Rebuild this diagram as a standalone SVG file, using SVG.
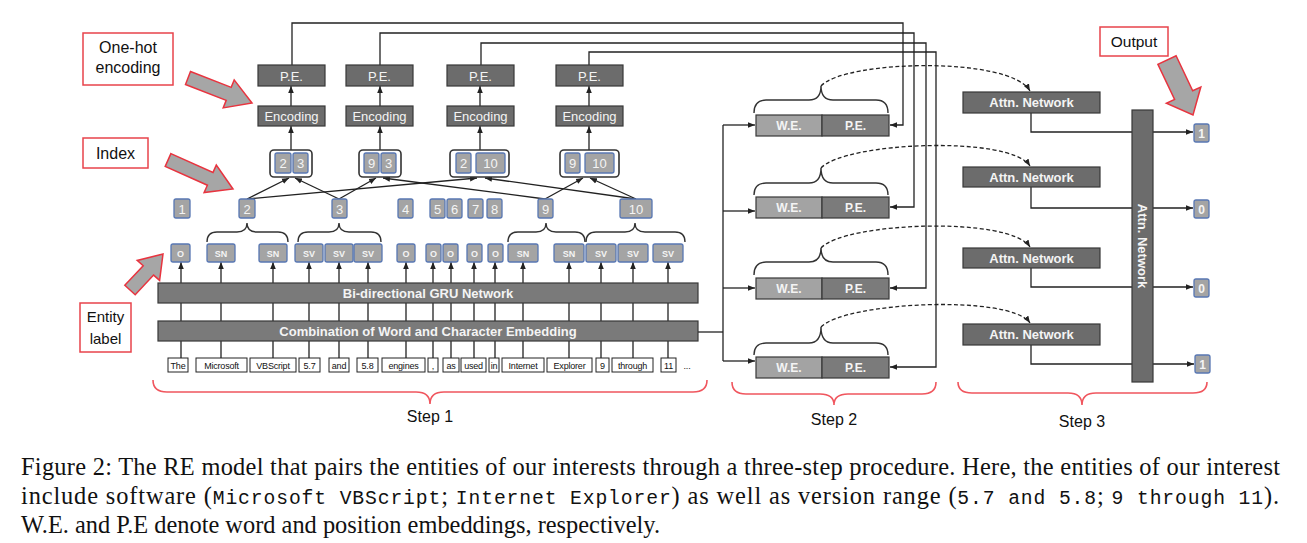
<svg xmlns="http://www.w3.org/2000/svg" width="1307" height="543" viewBox="0 0 1307 543">
<style>
.dk{fill:#6c6c6c;stroke:#383838;stroke-width:1.2}
.bar{fill:#7a7a7a;stroke:#383838;stroke-width:1.2}
.we{fill:#a3a3a3;stroke:#383838;stroke-width:1.2}
.pe2{fill:#7b7b7b;stroke:#383838;stroke-width:1.2}
.wt{fill:#f4f4f4;font-family:"Liberation Sans",Arial,sans-serif;text-anchor:middle}
.b{font-weight:bold}
.ix{fill:#a4a4a4;stroke:#5877b3;stroke-width:1.3}
.pair{fill:#ffffff;stroke:#333;stroke-width:1.6}
.red{fill:#ffffff;stroke:#e8434b;stroke-width:1.5}
.blk{fill:#111;font-family:"Liberation Sans",Arial,sans-serif;text-anchor:middle}
.wd{fill:#ffffff;stroke:#222;stroke-width:1}
.wdt{fill:#111;font-family:"Liberation Sans",Arial,sans-serif;font-size:9px;text-anchor:middle;letter-spacing:-0.2px}
.ln{stroke:#222;stroke-width:1.3;fill:none}
.dash{stroke:#222;stroke-width:1.3;fill:none;stroke-dasharray:4 2.5}
.brace{stroke:#333;stroke-width:1.4;fill:none}
.rbrace{stroke:#f0565e;stroke-width:1.6;fill:none}
.bigarrow{fill:#a6a6a6;stroke:#e8343f;stroke-width:1.5;stroke-linejoin:miter}
.cap{fill:#111;font-family:"Liberation Serif","Times New Roman",serif;font-size:24.4px}
.mono{font-family:"Liberation Mono","Courier New",monospace;font-size:19.7px}
</style>
<defs>
<marker id="ah" viewBox="0 0 10 10" refX="10" refY="5" markerWidth="7" markerHeight="7" markerUnits="userSpaceOnUse" orient="auto"><path d="M0,1 L10,5 L0,9 z" fill="#222"/></marker>
</defs>
<rect width="1307" height="543" fill="#ffffff"/>

<!-- callout labels -->
<g id="lbl-onehot">
<rect class="red" x="83" y="33" width="90" height="52"/>
<text class="blk" x="128" y="53" font-size="16">One-hot</text>
<text class="blk" x="128" y="73" font-size="16">encoding</text>
<polygon class="bigarrow" points="190.5,71.5 231.2,87.4 234.2,79.9 252,103 223.2,107.9 226.2,100.4 185.5,84.5"/>
</g>
<g id="lbl-index">
<rect class="red" x="83" y="138" width="65" height="30"/>
<text class="blk" x="115.5" y="158.5" font-size="16">Index</text>
<polygon class="bigarrow" points="170.9,153.6 213,172.4 216.3,165.1 233,189 204.1,192.5 207.4,185.2 165.2,166.4"/>
</g>
<g id="lbl-entity">
<rect class="red" x="80" y="303" width="51" height="49"/>
<text class="blk" x="105.5" y="322" font-size="15">Entity</text>
<text class="blk" x="105.5" y="344" font-size="15">label</text>
<polygon class="bigarrow" points="124.8,285.3 143.2,265.7 137.2,260.4 163,254 159.6,280.4 153.6,275.1 135.2,294.7"/>
</g>
<g id="lbl-output">
<rect class="red" x="1100" y="27" width="68" height="29"/>
<text class="blk" x="1134" y="47" font-size="15.5">Output</text>
<polygon class="bigarrow" points="1176.1,55.7 1192.7,90.8 1200.8,87 1193,115 1166.4,103.2 1174.6,99.4 1157.9,64.3"/>
</g>

<!-- connectors -->
<g id="connectors">
<line class="ln" x1="291" y1="150" x2="291" y2="126" marker-end="url(#ah)"/>
<line class="ln" x1="380" y1="150" x2="380" y2="126" marker-end="url(#ah)"/>
<line class="ln" x1="480" y1="150" x2="480" y2="126" marker-end="url(#ah)"/>
<line class="ln" x1="589" y1="150" x2="589" y2="126" marker-end="url(#ah)"/>
<line class="ln" x1="291" y1="106" x2="291" y2="86" marker-end="url(#ah)"/>
<line class="ln" x1="380" y1="106" x2="380" y2="86" marker-end="url(#ah)"/>
<line class="ln" x1="480" y1="106" x2="480" y2="86" marker-end="url(#ah)"/>
<line class="ln" x1="589" y1="106" x2="589" y2="86" marker-end="url(#ah)"/>
<line class="ln" x1="247" y1="199" x2="289" y2="178" marker-end="url(#ah)"/>
<line class="ln" x1="247" y1="199" x2="477" y2="178" marker-end="url(#ah)"/>
<line class="ln" x1="339" y1="199" x2="295" y2="178" marker-end="url(#ah)"/>
<line class="ln" x1="339" y1="199" x2="376" y2="178" marker-end="url(#ah)"/>
<line class="ln" x1="545" y1="199" x2="383" y2="178" marker-end="url(#ah)"/>
<line class="ln" x1="545" y1="199" x2="583" y2="178" marker-end="url(#ah)"/>
<line class="ln" x1="636" y1="199" x2="485" y2="178" marker-end="url(#ah)"/>
<line class="ln" x1="636" y1="199" x2="590" y2="178" marker-end="url(#ah)"/>
<g class="ln" marker-end="url(#ah)">
<line x1="181" y1="283" x2="181" y2="262"/>
<line x1="221" y1="283" x2="221" y2="262"/>
<line x1="273" y1="283" x2="273" y2="262"/>
<line x1="309" y1="283" x2="309" y2="262"/>
<line x1="339" y1="283" x2="339" y2="262"/>
<line x1="368" y1="283" x2="368" y2="262"/>
<line x1="406" y1="283" x2="406" y2="262"/>
<line x1="433" y1="283" x2="433" y2="262"/>
<line x1="451" y1="283" x2="451" y2="262"/>
<line x1="474" y1="283" x2="474" y2="262"/>
<line x1="495" y1="283" x2="495" y2="262"/>
<line x1="523" y1="283" x2="523" y2="262"/>
<line x1="569" y1="283" x2="569" y2="262"/>
<line x1="601" y1="283" x2="601" y2="262"/>
<line x1="633" y1="283" x2="633" y2="262"/>
<line x1="668" y1="283" x2="668" y2="262"/>
</g>
<path class="ln" d="M181,303V321M221,303V321M273,303V321M309,303V321M339,303V321M368,303V321M406,303V321M433,303V321M451,303V321M474,303V321M495,303V321M523,303V321M569,303V321M601,303V321M633,303V321M668,303V321"/>
<path class="ln" d="M181,341V358M221,341V358M273,341V358M309,341V358M339,341V358M368,341V358M406,341V358M433,341V358M451,341V358M474,341V358M495,341V358M523,341V358M569,341V358M601,341V358M633,341V358M668,341V358"/>
<path class="ln" d="M292,65V23H903V125H890" marker-end="url(#ah)"/>
<path class="ln" d="M380,65V33H914V207H890" marker-end="url(#ah)"/>
<path class="ln" d="M481,65V43H926V288H890" marker-end="url(#ah)"/>
<path class="ln" d="M589,65V52H936V367H890" marker-end="url(#ah)"/>
<path class="ln" d="M698,332H723"/>
<path class="ln" d="M723,125V361"/>
<line class="ln" x1="723" y1="125" x2="755" y2="125" marker-end="url(#ah)"/>
<line class="ln" x1="723" y1="211" x2="755" y2="211" marker-end="url(#ah)"/>
<line class="ln" x1="723" y1="288" x2="755" y2="288" marker-end="url(#ah)"/>
<line class="ln" x1="723" y1="361" x2="755" y2="361" marker-end="url(#ah)"/>
<path class="dash" d="M821,86C845,60 1010,56 1030,91" marker-end="url(#ah)"/>
<path class="dash" d="M821,168C845,142 1010,135 1030,166" marker-end="url(#ah)"/>
<path class="dash" d="M821,248C845,222 1010,216 1030,247" marker-end="url(#ah)"/>
<path class="dash" d="M821,327C845,302 1010,294 1030,323" marker-end="url(#ah)"/>
<path class="ln" d="M1031,113V132H1193" marker-end="url(#ah)"/>
<path class="ln" d="M1031,187V208H1193" marker-end="url(#ah)"/>
<path class="ln" d="M1031,268V287H1193" marker-end="url(#ah)"/>
<path class="ln" d="M1031,345V364H1194" marker-end="url(#ah)"/>
</g>

<g id="pe1"><rect class="dk" x="258" y="65" width="67" height="21"/><text class="wt" x="291.5" y="80.5" font-size="13">P.E.</text></g>
<g id="pe2"><rect class="dk" x="346" y="65" width="67" height="21"/><text class="wt" x="379.5" y="80.5" font-size="13">P.E.</text></g>
<g id="pe3"><rect class="dk" x="447" y="65" width="67" height="21"/><text class="wt" x="480.5" y="80.5" font-size="13">P.E.</text></g>
<g id="pe4"><rect class="dk" x="556" y="65" width="67" height="21"/><text class="wt" x="589.5" y="80.5" font-size="13">P.E.</text></g>
<g id="enc1"><rect class="dk" x="258" y="106" width="67" height="20"/><text class="wt" x="291.5" y="120.5" font-size="13">Encoding</text></g>
<g id="enc2"><rect class="dk" x="346" y="106" width="67" height="20"/><text class="wt" x="379.5" y="120.5" font-size="13">Encoding</text></g>
<g id="enc3"><rect class="dk" x="447" y="106" width="67" height="20"/><text class="wt" x="480.5" y="120.5" font-size="13">Encoding</text></g>
<g id="enc4"><rect class="dk" x="556" y="106" width="67" height="20"/><text class="wt" x="589.5" y="120.5" font-size="13">Encoding</text></g>

<g id="pair1"><rect class="pair" x="270" y="150" width="42" height="27" rx="4"/>
<rect class="ix" x="275" y="153" width="16" height="20" rx="2"/><text class="wt" x="283" y="168" font-size="13">2</text>
<rect class="ix" x="293" y="153" width="15" height="20" rx="2"/><text class="wt" x="300.5" y="168" font-size="13">3</text></g>
<g id="pair2"><rect class="pair" x="359" y="150" width="42" height="27" rx="4"/>
<rect class="ix" x="364" y="153" width="15" height="20" rx="2"/><text class="wt" x="371.5" y="168" font-size="13">9</text>
<rect class="ix" x="381" y="153" width="15" height="20" rx="2"/><text class="wt" x="388.5" y="168" font-size="13">3</text></g>
<g id="pair3"><rect class="pair" x="450" y="150" width="59" height="27" rx="4"/>
<rect class="ix" x="456" y="153" width="15" height="20" rx="2"/><text class="wt" x="463.5" y="168" font-size="13">2</text>
<rect class="ix" x="476" y="153" width="29" height="20" rx="2"/><text class="wt" x="490.5" y="168" font-size="13">10</text></g>
<g id="pair4"><rect class="pair" x="560" y="150" width="59" height="27" rx="4"/>
<rect class="ix" x="565" y="153" width="15" height="20" rx="2"/><text class="wt" x="572.5" y="168" font-size="13">9</text>
<rect class="ix" x="585" y="153" width="29" height="20" rx="2"/><text class="wt" x="599.5" y="168" font-size="13">10</text></g>

<g id="idx1"><rect class="ix" x="174" y="199" width="16" height="19" rx="2"/><text class="wt" x="182" y="213.5" font-size="13">1</text></g>
<g id="idx2"><rect class="ix" x="239" y="199" width="16" height="19" rx="2"/><text class="wt" x="247" y="213.5" font-size="13">2</text></g>
<g id="idx3"><rect class="ix" x="332" y="199" width="15" height="19" rx="2"/><text class="wt" x="339.5" y="213.5" font-size="13">3</text></g>
<g id="idx4"><rect class="ix" x="398" y="199" width="15" height="19" rx="2"/><text class="wt" x="405.5" y="213.5" font-size="13">4</text></g>
<g id="idx5"><rect class="ix" x="430" y="199" width="15" height="19" rx="2"/><text class="wt" x="437.5" y="213.5" font-size="13">5</text></g>
<g id="idx6"><rect class="ix" x="447" y="199" width="15" height="19" rx="2"/><text class="wt" x="454.5" y="213.5" font-size="13">6</text></g>
<g id="idx7"><rect class="ix" x="468" y="199" width="15" height="19" rx="2"/><text class="wt" x="475.5" y="213.5" font-size="13">7</text></g>
<g id="idx8"><rect class="ix" x="487" y="199" width="15" height="19" rx="2"/><text class="wt" x="494.5" y="213.5" font-size="13">8</text></g>
<g id="idx9"><rect class="ix" x="538" y="199" width="15" height="19" rx="2"/><text class="wt" x="545.5" y="213.5" font-size="13">9</text></g>
<g id="idx10"><rect class="ix" x="620" y="199" width="32" height="19" rx="2"/><text class="wt" x="636" y="213.5" font-size="13">10</text></g>

<g id="braces-labels">
<path class="brace" d="M207,242Q207,232 217,232L237,232Q247,232 247,223Q247,232 257,232L278,232Q288,232 288,242"/>
<path class="brace" d="M298,242Q298,232 308,232L329,232Q339,232 339,223Q339,232 349,232L371,232Q381,232 381,242"/>
<path class="brace" d="M508,242Q508,232 518,232L536,232Q546,232 546,223Q546,232 556,232L575,232Q585,232 585,242"/>
<path class="brace" d="M586,242Q586,232 596,232L625,232Q635,232 635,223Q635,232 645,232L675,232Q685,232 685,242"/>
</g>

<g id="labels">
<rect class="ix" x="171" y="244" width="19" height="18" rx="2"/><text class="wt b" x="180.5" y="256.5" font-size="9">O</text>
<rect class="ix" x="207" y="244" width="28" height="18" rx="2"/><text class="wt b" x="221" y="256.5" font-size="9">SN</text>
<rect class="ix" x="259" y="244" width="28" height="18" rx="2"/><text class="wt b" x="273" y="256.5" font-size="9">SN</text>
<rect class="ix" x="295" y="244" width="28" height="18" rx="2"/><text class="wt b" x="309" y="256.5" font-size="9">SV</text>
<rect class="ix" x="325" y="244" width="28" height="18" rx="2"/><text class="wt b" x="339" y="256.5" font-size="9">SV</text>
<rect class="ix" x="354" y="244" width="28" height="18" rx="2"/><text class="wt b" x="368" y="256.5" font-size="9">SV</text>
<rect class="ix" x="397" y="244" width="18" height="18" rx="2"/><text class="wt b" x="406" y="256.5" font-size="9">O</text>
<rect class="ix" x="426" y="244" width="15" height="18" rx="2"/><text class="wt b" x="433.5" y="256.5" font-size="9">O</text>
<rect class="ix" x="443" y="244" width="15" height="18" rx="2"/><text class="wt b" x="450.5" y="256.5" font-size="9">O</text>
<rect class="ix" x="467" y="244" width="15" height="18" rx="2"/><text class="wt b" x="474.5" y="256.5" font-size="9">O</text>
<rect class="ix" x="488" y="244" width="15" height="18" rx="2"/><text class="wt b" x="495.5" y="256.5" font-size="9">O</text>
<rect class="ix" x="508" y="244" width="30" height="18" rx="2"/><text class="wt b" x="523" y="256.5" font-size="9">SN</text>
<rect class="ix" x="554" y="244" width="30" height="18" rx="2"/><text class="wt b" x="569" y="256.5" font-size="9">SN</text>
<rect class="ix" x="586" y="244" width="30" height="18" rx="2"/><text class="wt b" x="601" y="256.5" font-size="9">SV</text>
<rect class="ix" x="618" y="244" width="30" height="18" rx="2"/><text class="wt b" x="633" y="256.5" font-size="9">SV</text>
<rect class="ix" x="653" y="244" width="30" height="18" rx="2"/><text class="wt b" x="668" y="256.5" font-size="9">SV</text>
</g>

<g id="gru"><rect class="bar" x="158" y="283" width="540" height="20"/><text class="wt b" x="428" y="297.5" font-size="13">Bi-directional GRU Network</text></g>
<g id="comb"><rect class="bar" x="158" y="321" width="540" height="20"/><text class="wt b" x="428" y="335.5" font-size="13">Combination of Word and Character Embedding</text></g>

<g id="words">
<rect class="wd" x="168" y="358" width="20" height="14"/><text class="wdt" x="178" y="368.5">The</text>
<rect class="wd" x="196" y="358" width="51" height="14"/><text class="wdt" x="221.5" y="368.5">Microsoft</text>
<rect class="wd" x="250" y="358" width="46" height="14"/><text class="wdt" x="273" y="368.5">VBScript</text>
<rect class="wd" x="299" y="358" width="21" height="14"/><text class="wdt" x="309.5" y="368.5">5.7</text>
<rect class="wd" x="329" y="358" width="20" height="14"/><text class="wdt" x="339" y="368.5">and</text>
<rect class="wd" x="357" y="358" width="21" height="14"/><text class="wdt" x="367.5" y="368.5">5.8</text>
<rect class="wd" x="382" y="358" width="43" height="14"/><text class="wdt" x="403.5" y="368.5">engines</text>
<rect class="wd" x="428" y="358" width="10" height="14"/><text class="wdt" x="433" y="368.5">,</text>
<rect class="wd" x="443" y="358" width="16" height="14"/><text class="wdt" x="451" y="368.5">as</text>
<rect class="wd" x="461" y="358" width="25" height="14"/><text class="wdt" x="473.5" y="368.5">used</text>
<rect class="wd" x="489" y="358" width="10" height="14"/><text class="wdt" x="494" y="368.5">in</text>
<rect class="wd" x="502" y="358" width="42" height="14"/><text class="wdt" x="523" y="368.5">Internet</text>
<rect class="wd" x="547" y="358" width="45" height="14"/><text class="wdt" x="569.5" y="368.5">Explorer</text>
<rect class="wd" x="596" y="358" width="13" height="14"/><text class="wdt" x="602.5" y="368.5">9</text>
<rect class="wd" x="612" y="358" width="41" height="14"/><text class="wdt" x="632.5" y="368.5">through</text>
<rect class="wd" x="661" y="358" width="15" height="14"/><text class="wdt" x="668.5" y="368.5">11</text>
<text class="wdt" x="687" y="368.5">...</text>
</g>

<g id="emb1"><rect class="we" x="756" y="115" width="66" height="21"/><rect class="pe2" x="822" y="115" width="67" height="21"/>
<text class="wt b" x="789" y="130" font-size="12">W.E.</text><text class="wt b" x="855.5" y="130" font-size="12">P.E.</text>
<path class="brace" d="M754,113Q754,100 766,100L809,100Q821,100 821,86Q821,100 833,100L876,100Q888,100 888,113"/></g>
<g id="emb2"><rect class="we" x="756" y="197" width="66" height="21"/><rect class="pe2" x="822" y="197" width="67" height="21"/>
<text class="wt b" x="789" y="212" font-size="12">W.E.</text><text class="wt b" x="855.5" y="212" font-size="12">P.E.</text>
<path class="brace" d="M754,195Q754,183 766,183L809,183Q821,183 821,168Q821,183 833,183L876,183Q888,183 888,195"/></g>
<g id="emb3"><rect class="we" x="756" y="278" width="66" height="21"/><rect class="pe2" x="822" y="278" width="67" height="21"/>
<text class="wt b" x="789" y="293" font-size="12">W.E.</text><text class="wt b" x="855.5" y="293" font-size="12">P.E.</text>
<path class="brace" d="M754,275Q754,262 766,262L809,262Q821,262 821,248Q821,262 833,262L876,262Q888,262 888,275"/></g>
<g id="emb4"><rect class="we" x="756" y="357" width="66" height="21"/><rect class="pe2" x="822" y="357" width="67" height="21"/>
<text class="wt b" x="789" y="372" font-size="12">W.E.</text><text class="wt b" x="855.5" y="372" font-size="12">P.E.</text>
<path class="brace" d="M754,355Q754,343 766,343L809,343Q821,343 821,327Q821,343 833,343L876,343Q888,343 888,355"/></g>

<g id="attn1"><rect class="dk" x="963" y="92" width="137" height="21"/><text class="wt b" x="1031.5" y="107" font-size="13">Attn. Network</text></g>
<g id="attn2"><rect class="dk" x="963" y="167" width="137" height="20"/><text class="wt b" x="1031.5" y="181.5" font-size="13">Attn. Network</text></g>
<g id="attn3"><rect class="dk" x="963" y="248" width="137" height="20"/><text class="wt b" x="1031.5" y="262.5" font-size="13">Attn. Network</text></g>
<g id="attn4"><rect class="dk" x="963" y="324" width="137" height="21"/><text class="wt b" x="1031.5" y="339" font-size="13">Attn. Network</text></g>
<g id="attn-main"><rect class="dk" x="1132" y="110" width="21" height="272"/>
<text class="wt b" font-size="13" transform="translate(1137.5,246) rotate(90)">Attn. Network</text></g>
<g id="out1"><rect class="ix" x="1194" y="124" width="15" height="18" rx="2"/><text class="wt b" x="1201.5" y="137.5" font-size="12">1</text></g>
<g id="out2"><rect class="ix" x="1194" y="200" width="15" height="18" rx="2"/><text class="wt b" x="1201.5" y="213.5" font-size="12">0</text></g>
<g id="out3"><rect class="ix" x="1194" y="279" width="15" height="18" rx="2"/><text class="wt b" x="1201.5" y="292.5" font-size="12">0</text></g>
<g id="out4"><rect class="ix" x="1195" y="355" width="15" height="18" rx="2"/><text class="wt b" x="1202.5" y="368.5" font-size="12">1</text></g>

<g id="step1"><path class="rbrace" d="M153,380Q153,392 167,392L416,392Q430,392 430,404Q430,392 444,392L693,392Q707,392 707,380"/><text class="blk" x="430" y="422" font-size="16">Step 1</text></g>
<g id="step2"><path class="rbrace" d="M732,382Q732,394 746,394L820,394Q834,394 834,405Q834,394 848,394L922,394Q936,394 936,382"/><text class="blk" x="834" y="425" font-size="16">Step 2</text></g>
<g id="step3"><path class="rbrace" d="M958,382Q958,393 972,393L1068,393Q1082,393 1082,405Q1082,393 1096,393L1193,393Q1207,393 1207,382"/><text class="blk" x="1082" y="427" font-size="16">Step 3</text></g>

<g id="caption">
<text class="cap" x="21" y="475" textLength="1259" lengthAdjust="spacing">Figure 2: The RE model that pairs the entities of our interests through a three-step procedure. Here, the entities of our interest</text>
<text class="cap" x="21" y="504" textLength="1258" lengthAdjust="spacing">include software (<tspan class="mono">Microsoft VBScript</tspan>; <tspan class="mono">Internet Explorer</tspan>) as well as version range (<tspan class="mono">5.7 and 5.8</tspan>; <tspan class="mono">9 through 11</tspan>).</text>
<text class="cap" x="21" y="533">W.E. and P.E denote word and position embeddings, respectively.</text>
</g>
</svg>
